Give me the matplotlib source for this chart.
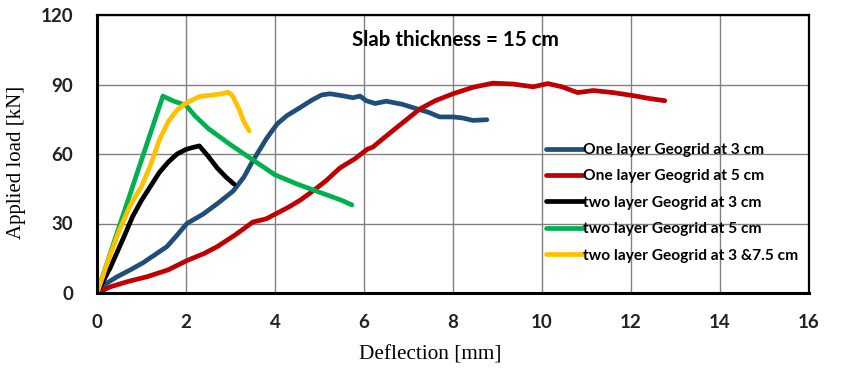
import matplotlib
matplotlib.use("Agg")
import matplotlib.pyplot as plt

# ---- data ----
blue_x = [0, 0.2, 0.45, 0.75, 1.03, 1.3, 1.57, 1.8, 2.02, 2.2, 2.38, 2.7, 3.06, 3.3, 3.5, 3.82, 4.05, 4.27, 4.56, 4.85, 5.05, 5.24, 5.5, 5.75, 5.91, 6.05, 6.25, 6.5, 6.85, 7.19, 7.45, 7.7, 8.0, 8.2, 8.45, 8.76]
blue_y = [0, 4, 7, 10, 13, 16.5, 20, 25, 30, 32, 34, 38.5, 44, 50, 57, 67, 73, 76.6, 80, 83.5, 85.5, 86, 85.2, 84.3, 85, 83, 81.8, 82.8, 81.5, 79.5, 78, 76, 76, 75.6, 74.5, 74.8]

red_x = [0, 0.29, 0.7, 1.12, 1.6, 2.02, 2.4, 2.7, 3.1, 3.5, 3.8, 4.04, 4.3, 4.56, 4.85, 5.15, 5.46, 5.8, 6.07, 6.2, 6.45, 6.74, 7.0, 7.26, 7.6, 8.0, 8.45, 8.9, 9.35, 9.8, 10.13, 10.45, 10.8, 11.15, 11.6, 12.05, 12.4, 12.76]
red_y = [0, 2.6, 5, 7, 10, 14, 17, 20, 25, 30.6, 32, 34.4, 37, 40, 44, 48.5, 54, 58, 62, 63, 67, 71.5, 75.5, 79.5, 83, 86, 88.8, 90.6, 90.2, 89, 90.4, 89, 86.5, 87.4, 86.5, 85.2, 84, 83]

black_x = [0, 0.3, 0.6, 0.8, 1.0, 1.2, 1.4, 1.6, 1.8, 2.0, 2.15, 2.3, 2.5, 2.7, 2.9, 3.08]
black_y = [0, 11, 24, 33, 40, 46, 52, 56.5, 60, 62, 62.8, 63.5, 59, 54, 50, 47]

green_x = [0, 1.48, 1.7, 2.0, 2.2, 2.5, 3.0, 3.5, 4.0, 4.5, 5.0, 5.5, 5.73]
green_y = [0, 85, 83, 81, 76.5, 71, 64, 57.5, 51, 47, 43.5, 40, 38]

yellow_x = [0, 0.25, 0.5, 0.75, 1.0, 1.2, 1.4, 1.6, 1.8, 2.0, 2.3, 2.6, 2.8, 2.95, 3.05, 3.2, 3.3, 3.42]
yellow_y = [0, 14, 27, 38, 46, 55, 66, 74, 79, 82, 84.8, 85.5, 86, 86.7, 85, 79, 74, 70]

labels = ["One layer Geogrid at 3 cm", "One layer Geogrid at 5 cm",
          "two layer Geogrid at 3 cm", "two layer Geogrid at 5 cm",
          "two layer Geogrid at 3 &7.5 cm"]
colors = ["#1F4E79", "#C00000", "#000000", "#00B050", "#FFC000"]

x_ticks = [0, 2, 4, 6, 8, 10, 12, 14, 16]
y_ticks = [0, 30, 60, 90, 120]

fig = plt.figure(figsize=(8.45, 3.70), dpi=100)
ax = fig.add_axes([97/845, 1-293/370, (809-97)/845, (293-15)/370])

series = [(blue_x, blue_y), (red_x, red_y), (black_x, black_y), (green_x, green_y), (yellow_x, yellow_y)]
for (xs, ys), c, lab in zip(series, colors, labels):
    ax.plot(xs, ys, color=c, lw=3.4, label=lab, solid_capstyle="round", solid_joinstyle="round")

ax.set_xlim(0, 16)
ax.set_ylim(0, 120)
ax.set_xticks(x_ticks)
ax.set_yticks(y_ticks)
ax.grid(True, color="#808080", lw=1.0)
ax.set_axisbelow(True)
for s in ax.spines.values():
    s.set_color("black")
    s.set_linewidth(1.6)
ax.spines["left"].set_linewidth(2.2)
ax.spines["bottom"].set_linewidth(2.2)

ax.tick_params(axis="y", length=0, pad=17)
ax.tick_params(axis="x", length=0, pad=15)
for t in ax.get_xticklabels() + ax.get_yticklabels():
    t.set_fontfamily("Lato")
    t.set_fontweight("bold")
    t.set_fontsize(13.5)
    t.set_color("#222222")

ax.set_xlabel("Deflection [mm]", fontfamily="Liberation Serif", fontsize=15.3)
ax.set_ylabel("Applied load [kN]", fontfamily="Liberation Serif", fontsize=15)
ax.xaxis.set_label_coords((430 - 97) / (809 - 97), -(355 - 293) / (293 - 15))
ax.yaxis.set_label_coords(-(97 - 17) / (809 - 97), (293 - 162) / (293 - 15))
ax.xaxis.label.set_va("center")
ax.yaxis.label.set_va("center")

ax.text(5.72, 109, "Slab thickness = 15 cm", fontfamily="Lato", fontweight="bold",
        fontsize=14.8, va="center", ha="left")

leg = ax.legend(loc="upper left", bbox_to_anchor=(546/845, 1-143/370), bbox_transform=fig.transFigure,
                frameon=False, handlelength=2.4, handletextpad=0.0, labelspacing=0.8,
                borderpad=0, borderaxespad=0,
                prop={"family": "Lato", "weight": "bold", "size": 11.2})

fig.savefig("out.png", dpi=100)
